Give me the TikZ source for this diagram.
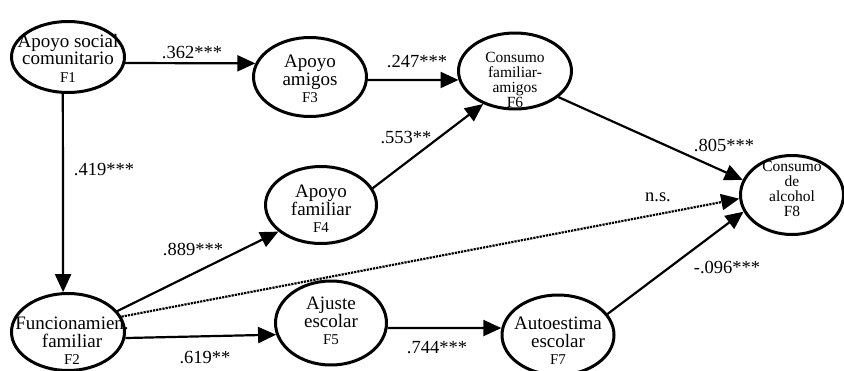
\documentclass[tikz,border=0pt]{standalone}
\usepackage{fontspec}
\setmainfont{Liberation Serif}
\usetikzlibrary{shapes,arrows.meta}
\tikzstyle{factor}=[draw, ellipse, line width=3pt, inner sep=0pt]
\tikzstyle{ftext}=[align=center, inner sep=0pt, font=\fontsize{19}{17.5}\selectfont]
\tikzstyle{fsmall}=[align=center, inner sep=0pt, font=\fontsize{15.5}{15}\selectfont]
\tikzstyle{coef}=[inner sep=0pt, font=\fontsize{18.5}{20}\selectfont]
\tikzstyle{path>}=[line width=2.2pt, -{Triangle[length=18pt,width=16pt]}]
\newcommand{\fl}[1]{{\fontsize{15}{15}\selectfont #1}}

\begin{document}
\begin{tikzpicture}[x=1pt,y=-1pt]
\useasboundingbox (0,0) rectangle (844,370);
% factores
\node[factor, minimum width=113pt, minimum height=71pt] (f1) at (68,57) {};
\node[factor, minimum width=113pt, minimum height=79pt] (f3) at (310,77) {};
\node[factor, minimum width=113pt, minimum height=76pt] (f6) at (515,71) {};
\node[factor, minimum width=111pt, minimum height=77pt] (f4) at (321,205) {};
\node[factor, minimum width=103pt, minimum height=79pt] (f8) at (792,195) {};
\node[factor, minimum width=113pt, minimum height=77pt] (f2) at (68,332) {};
\node[factor, minimum width=111pt, minimum height=84pt] (f5) at (331,323) {};
\node[factor, minimum width=112pt, minimum height=80pt] (f7) at (558,335) {};
\node[ftext] (t1) at (68,58) {Apoyo social\\comunitario\\\fl{F1}};
\node[ftext] (t3) at (310,79) {Apoyo\\amigos\\\fl{F3}};
\node[fsmall] (t6) at (515,80) {Consumo\\familiar-\\amigos\\F6};
\node[ftext] (t4) at (321,209) {Apoyo\\familiar\\\fl{F4}};
\node[fsmall] (t8) at (792,189) {Consumo\\de\\alcohol\\F8};
\node[ftext] (t2) at (72,341) {Funcionamien.\\familiar\\\fl{F2}};
\node[ftext] (t5) at (331,321) {Ajuste\\escolar\\\fl{F5}};
\node[ftext] (t7) at (558,341) {Autoestima\\escolar\\\fl{F7}};
% trayectorias
\foreach \a/\s/\b/\e in {f1/-6/f3/166, f3/-3/f6/189, f4/18/f6/226, f6/-31/f8/163,
	f1/262/f2/97, f2/23/f4/212, f2/-6/f5/192, f5/-5/f7/173, f7/23/f8/199} {
	\draw[path>] (\a.\s) -- (\b.\e);
}
\draw[path>, densely dotted] (f2.16) -- (f8.184);
% coeficientes
\node[coef] (c13) at (192,53) {.362***};
\node[coef] (c36) at (417,62) {.247***};
\node[coef] (c46) at (406,138) {.553**};
\node[coef] (c12) at (104,170) {.419***};
\node[coef] (c24) at (193,249) {.889***};
\node[coef] (c28) at (658,197) {n.s.};
\node[coef] (c68) at (724,145) {.805***};
\node[coef] (c78) at (727,267) {-.096***};
\node[coef] (c25) at (205,358) {.619**};
\node[coef] (c57) at (437,348) {.744***};
\end{tikzpicture}
\end{document}
